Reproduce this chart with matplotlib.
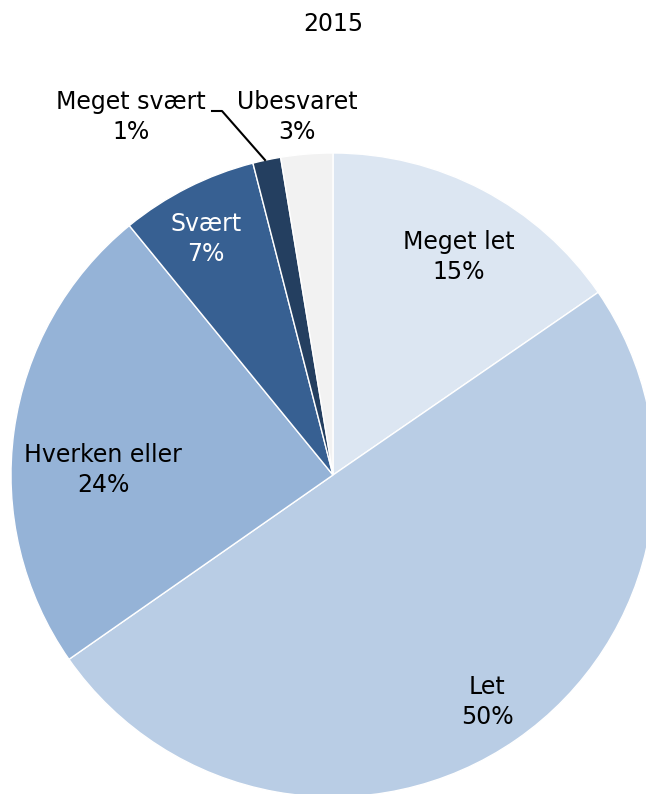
import matplotlib.pyplot as plt

# data
labels = ['Meget let', 'Let', 'Hverken eller', 'Svært', 'Meget svært', 'Ubesvaret']
shares = [15.4, 49.9, 23.8, 6.9, 1.4, 2.6]
pct_text = ['15%', '50%', '24%', '7%', '1%', '3%']
colors = ['#DCE6F2', '#B9CDE5', '#95B3D7', '#376092', '#243F60', '#F2F2F2']

W, H = 646, 794
fig = plt.figure(figsize=(W / 100, H / 100), dpi=100)
ax = fig.add_axes([0, 0, 1, 1])

# pie drawn in pixel space (y axis flipped, so counterclock=True goes clockwise on screen)
ax.pie(shares, colors=colors, startangle=-90, counterclock=True,
       center=(333, 475), radius=322, frame=True,
       wedgeprops=dict(edgecolor='white', linewidth=1))
ax.set_xlim(0, W)
ax.set_ylim(H, 0)
ax.set_aspect('equal')
ax.axis('off')

# label positions (pixels), text color
pos = [(459, 257), (487, 702), (103, 470), (206, 239), (131, 117), (297, 117)]
tcol = ['black', 'black', 'black', 'white', 'black', 'black']
for lab, p, (x, y), c in zip(labels, pct_text, pos, tcol):
    ax.text(x, y, lab + '\n' + p, ha='center', va='center', fontsize=17,
            color=c, linespacing=1.35)

# leader line for Meget svært
ax.plot([212, 222, 265], [111, 111, 160], color='black', lw=1.5)

ax.text(333, 24, '2015', ha='center', va='center', fontsize=17)

fig.savefig('out.png', dpi=100)
